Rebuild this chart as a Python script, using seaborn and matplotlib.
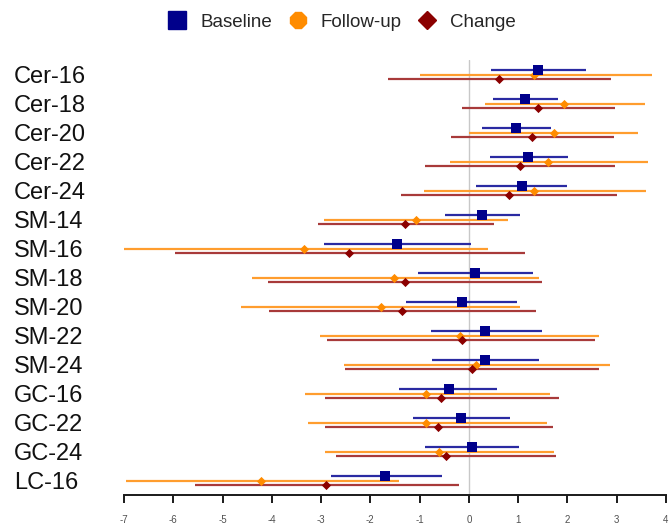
import numpy as np
import pandas as pd
import matplotlib
matplotlib.use("Agg")
import matplotlib.pyplot as plt
from matplotlib.lines import Line2D
import seaborn as sns

# lipid species, top to bottom
lipids = ["Cer-16", "Cer-18", "Cer-20", "Cer-22", "Cer-24",
          "SM-14", "SM-16", "SM-18", "SM-20", "SM-22", "SM-24",
          "GC-16", "GC-22", "GC-24", "LC-16"]

# estimates with lower / upper bounds
baseline_est = [1.41, 1.14, 0.96, 1.19, 1.08, 0.27, -1.45, 0.13, -0.14, 0.33, 0.33, -0.41, -0.17, 0.06, -1.70]
baseline_lo = [0.45, 0.48, 0.27, 0.42, 0.14, -0.48, -2.95, -1.04, -1.28, -0.77, -0.75, -1.41, -1.13, -0.89, -2.80]
baseline_hi = [2.38, 1.81, 1.67, 2.02, 1.99, 1.03, 0.05, 1.30, 0.98, 1.48, 1.42, 0.58, 0.83, 1.01, -0.55]

followup_est = [1.33, 1.93, 1.72, 1.61, 1.33, -1.07, -3.35, -1.52, -1.79, -0.19, 0.14, -0.88, -0.88, -0.60, -4.21]
followup_lo = [-1.00, 0.33, 0.00, -0.38, -0.92, -2.95, -7.03, -4.41, -4.62, -3.02, -2.54, -3.32, -3.27, -2.92, -6.95]
followup_hi = [3.71, 3.58, 3.44, 3.63, 3.60, 0.80, 0.38, 1.42, 1.03, 2.65, 2.86, 1.64, 1.58, 1.72, -1.41]

change_est = [0.61, 1.41, 1.29, 1.04, 0.82, -1.30, -2.44, -1.30, -1.36, -0.14, 0.06, -0.56, -0.62, -0.47, -2.89]
change_lo = [-1.64, -0.14, -0.36, -0.89, -1.37, -3.07, -5.96, -4.08, -4.06, -2.87, -2.51, -2.92, -2.92, -2.69, -5.55]
change_hi = [2.89, 2.97, 2.95, 2.97, 3.01, 0.50, 1.13, 1.48, 1.37, 2.56, 2.65, 1.82, 1.70, 1.76, -0.21]

series = ["Baseline", "Follow-up", "Change"]
colors = {"Baseline": "#00008B", "Follow-up": "#FF8C00", "Change": "#8B0000"}
line_colors = {"Baseline": "#2A2AA2", "Follow-up": "#FF9D2E", "Change": "#A83A3A"}
offsets = {"Baseline": -0.16, "Follow-up": 0.0, "Change": 0.16}

# long table for seaborn
rows = []
for name, est, lo, hi in [("Baseline", baseline_est, baseline_lo, baseline_hi),
                          ("Follow-up", followup_est, followup_lo, followup_hi),
                          ("Change", change_est, change_lo, change_hi)]:
    for i, lip in enumerate(lipids):
        rows.append({"lipid": lip, "series": name, "est": est[i], "lo": lo[i], "hi": hi[i],
                     "y": i + offsets[name]})
df = pd.DataFrame(rows)

sns.set_style("white")
plt.rcParams["font.family"] = ["Liberation Sans", "DejaVu Sans"]

fig = plt.figure(figsize=(6.7, 5.24), dpi=100)
ax = fig.add_axes([0.185, 0.055, 0.809, 0.830])

ax.axvline(0, color="#C8C8C8", lw=1, zorder=0)

# confidence intervals
for name in series:
    d = df[df["series"] == name]
    ax.hlines(d["y"], d["lo"], d["hi"], color=line_colors[name], lw=1.6, zorder=1)

# point estimates
sns.scatterplot(data=df[df["series"] == "Follow-up"], x="est", y="y", marker="D",
                color=colors["Follow-up"], s=22, linewidth=0, ax=ax, zorder=3, legend=False)
sns.scatterplot(data=df[df["series"] == "Change"], x="est", y="y", marker="D",
                color=colors["Change"], s=22, linewidth=0, ax=ax, zorder=3, legend=False)
sns.scatterplot(data=df[df["series"] == "Baseline"], x="est", y="y", marker="s",
                color=colors["Baseline"], s=60, linewidth=0, ax=ax, zorder=4, legend=False)

ax.set_xlim(-7, 4)
ax.set_ylim(14.5, -0.5)
ax.set_xlabel("")
ax.set_ylabel("")

ax.set_xticks(np.arange(-7, 5))
ax.set_xticklabels([str(v) for v in range(-7, 5)], fontsize=7, color="#505050")
ax.tick_params(axis="x", which="major", bottom=True, direction="out", length=6,
               width=1.4, color="#1a1a1a", pad=8)

ax.set_yticks(range(len(lipids)))
ax.set_yticklabels(lipids, fontsize=17, ha="left", va="center_baseline", color="#111111")
ax.tick_params(axis="y", left=False, length=0, pad=79)

for side in ["top", "right", "left"]:
    ax.spines[side].set_visible(False)
ax.spines["bottom"].set_color("#1a1a1a")
ax.spines["bottom"].set_linewidth(1.4)

handles = [
    Line2D([], [], ls="none", marker="s", ms=12.5, color=colors["Baseline"]),
    Line2D([], [], ls="none", marker="8", ms=13, color=colors["Follow-up"]),
    Line2D([], [], ls="none", marker="D", ms=9.5, color=colors["Change"]),
]
fig.legend(handles, series, loc="center", bbox_to_anchor=(0.509, 0.958), ncol=3,
           frameon=False, fontsize=13.5, handletextpad=0.64, columnspacing=0.75,
           handlelength=1.2)

fig.savefig("out.png", dpi=100)
